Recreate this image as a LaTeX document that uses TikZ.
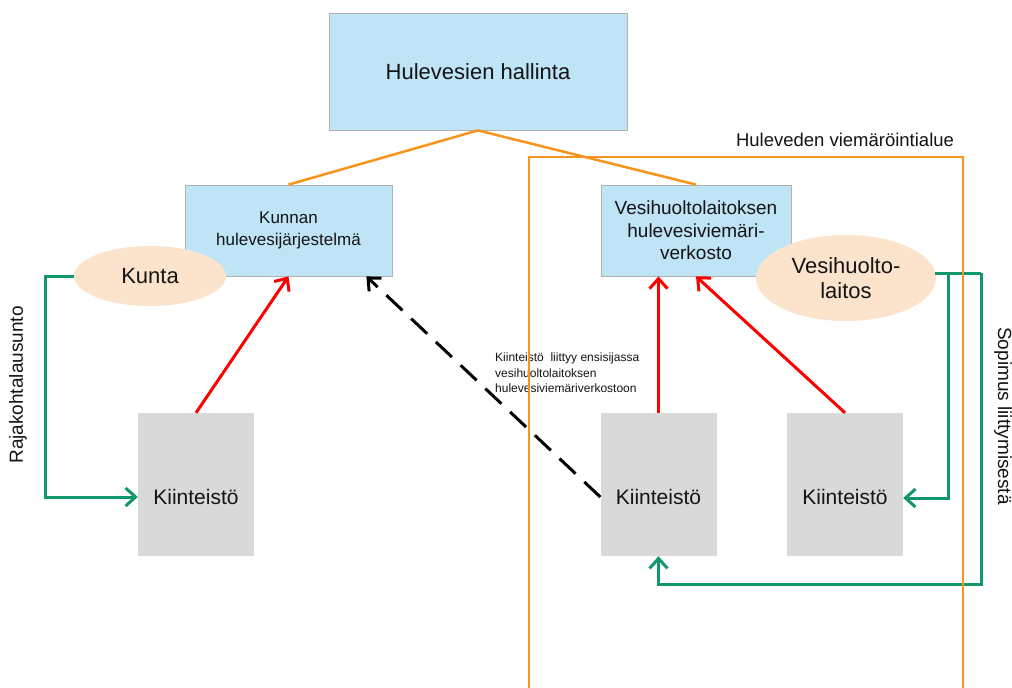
\documentclass[tikz,border=0pt]{standalone}
\usepackage{fontspec}
\setmainfont{Liberation Sans}
\usetikzlibrary{shapes.geometric,arrows.meta,calc}
\definecolor{boxblue}{RGB}{190,228,246}
\definecolor{peach}{RGB}{252,228,204}
\definecolor{kgray}{RGB}{217,217,217}
\definecolor{orng}{RGB}{247,148,29}
\definecolor{grn}{RGB}{18,150,110}
\definecolor{txt}{RGB}{20,20,20}
\begin{document}
\begin{tikzpicture}[x=1pt,y=-1pt,
  bluebox/.style={draw=gray!60,line width=0.8pt,fill=boxblue,inner sep=0pt,align=center,text=txt},
  peachell/.style={ellipse,fill=peach,inner sep=0pt,align=center,text=txt},
  kbox/.style={fill=kgray,inner sep=0pt,minimum width=116pt,minimum height=143pt},
  ktext/.style={inner sep=0pt,text=txt,font=\fontsize{21}{25}\selectfont},
  redarrow/.style={draw=red,line width=3pt,-{Straight Barb[length=10pt,width=18pt,line width=3pt]}},
  grnarrow/.style={draw=grn,line width=3pt,-{Straight Barb[length=10pt,width=18pt,line width=3pt]}},
  grnline/.style={draw=grn,line width=3pt},
  dasharrow/.style={draw=black,line width=3pt,dash pattern=on 22pt off 12pt,-{Straight Barb[length=10pt,width=18pt,line width=3pt]}},
  orline/.style={draw=orng,line width=2.5pt},
  lbl/.style={inner sep=0pt,text=txt},
]
\useasboundingbox[fill=white] (0,0) rectangle (1012,688);

% blue boxes
\node[bluebox,minimum width=298pt,minimum height=117pt,font=\fontsize{22}{26}\selectfont] (top) at (478,71.5) {Hulevesien hallinta};
\node[bluebox,minimum width=207pt,minimum height=91pt,font=\fontsize{17}{22}\selectfont] (kun) at (288.5,230.5) {Kunnan\\hulevesijärjestelmä};
\node[bluebox,minimum width=190pt,minimum height=91pt,font=\fontsize{19}{22.5}\selectfont] (vhl) at (696,230.5) {Vesihuoltolaitoksen\\hulevesiviemäri-\\verkosto};

% ellipses
\node[peachell,minimum width=152pt,minimum height=60pt,font=\fontsize{22}{26}\selectfont] (kunta) at (150,276) {Kunta};
\node[peachell,minimum width=180pt,minimum height=86pt,font=\fontsize{22}{24.5}\selectfont] (vel) at (846,278) {Vesihuolto-\\laitos};

% property boxes
\node[kbox] (k1) at (196,484.5) {};
\node[kbox] (k2) at (658.5,484.5) {};
\node[kbox] (k3) at (845,484.5) {};
\node[ktext] (k1t) at (196,497) {Kiinteistö};
\node[ktext] (k2t) at (658.5,497) {Kiinteistö};
\node[ktext] (k3t) at (845,497) {Kiinteistö};

% orange hierarchy lines
\draw[orline] (top.south) -- (kun.north);
\draw[orline] (top.south) -- (vhl.north);

% red arrows
\draw[redarrow] (k1.north) -- (kun.south);
\draw[redarrow] (k2.north) -- (k2.north |- vhl.south);
\draw[redarrow] (k3.north) -- (vhl.south);

% dashed arrow
\coordinate (dS) at ($(k2.west)+(0,12.5)$);
\coordinate (dE) at ($(kun.south east)+(-26,0)$);
\draw[dasharrow] (dS) -- (dE);

% small label
\node[lbl,anchor=north west,align=left,font=\fontsize{12}{15.5}\selectfont] (note) at (495,353) {Kiinteistö~ liittyy ensisijassa\\vesihuoltolaitoksen\\hulevesiviemäriverkostoon};

% green left
\coordinate (gl1) at (45,276);
\draw[grnarrow] (kunta.west) -- (gl1) |- ($(k1.west)+(0,12.5)$);
\node[lbl,rotate=90,font=\fontsize{19}{22}\selectfont] (raja) at (18,385) {Rajakohtalausunto};

% green right
\coordinate (gr0) at (935,273);
\coordinate (gr1) at (948,273);
\coordinate (gr2) at (981,273);
\coordinate (gr3) at (981,584);
\draw[grnline] (gr0) -- (gr2);
\draw[grnarrow] (gr1) |- ($(k3.east)+(0,13.5)$);
\draw[grnarrow] (gr2) -- (gr3) -| (k2.south);
\node[lbl,rotate=-90,font=\fontsize{19}{22}\selectfont] (sop) at (1003,416) {Sopimus liittymisestä};

% drainage area
\coordinate (o1) at (529,690);
\coordinate (o2) at (529,157);
\coordinate (o3) at (963,157);
\coordinate (o4) at (963,690);
\draw[orline] (o1) -- (o2) -- (o3) -- (o4);
\node[lbl,font=\fontsize{18.5}{22}\selectfont] (area) at (845,140) {Huleveden viemäröintialue};
\end{tikzpicture}
\end{document}
